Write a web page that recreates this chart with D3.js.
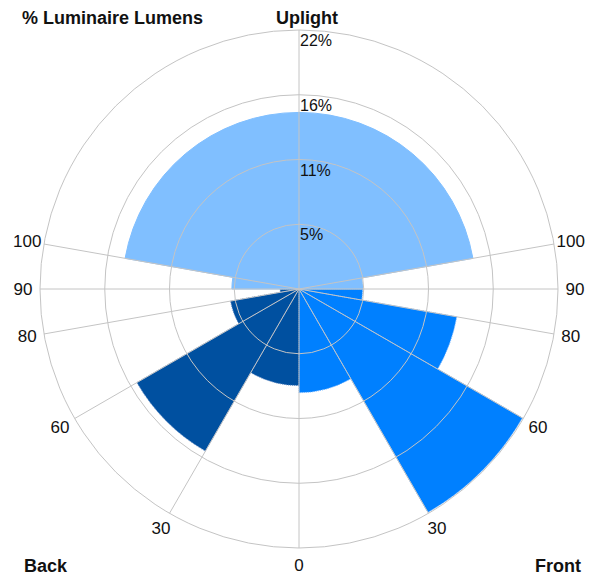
<!DOCTYPE html>
<html><head><meta charset="utf-8">
<script src="https://cdn.jsdelivr.net/npm/d3@7"></script>
<style>
html,body{margin:0;padding:0;background:#fff;}
svg{display:block;}
text{font-family:"Liberation Sans",Arial,sans-serif;fill:#111;}
.bold{font-weight:bold;}
</style></head>
<body>
<svg id="chart" width="590" height="578"></svg>
<script>
// Zones (vertical angle from nadir, degrees)
const zoneNames = ["0-30","30-60","60-80","80-90","90-100","100-180"];
const zoneStart = [0, 30, 60, 80, 90, 100];
const zoneEnd = [30, 60, 80, 90, 100, 180];
// % luminaire lumens per zone
const frontValues = [8.8, 21.9, 13.6, 5.4, 5.4, 15.0];
const backValues  = [8.2, 15.9, 5.9, 1.6, 5.7, 15.0];
// Grid
const ringValues = [5.5, 11, 16.5, 22];
const ringLabels = ["5%", "11%", "16%", "22%"];
const spokeAngles = [0, 30, 60, 80, 90, 100, 180];
const spokeLabelAngles = [0, 30, 60, 80, 90, 100];
const spokeLabels = ["0", "30", "60", "80", "90", "100"];

const cx = 299, cy = 289, R = 259;
const svg = d3.select("#chart");
const g = svg.append("g").attr("transform", `translate(${cx},${cy})`);
const r = d3.scaleLinear().domain([0, 22]).range([0, R]);
const deg = Math.PI / 180;

const colorFront = "#0080ff", colorBack = "#0050a0", colorUp = "#80bfff";
const strokeFront = "#59a8ff", strokeBack = "#4f7fc0";

const arc = d3.arc().innerRadius(0);

function wedges(values, side) {
  return values.map((v, i) => {
    const a0 = zoneStart[i] * deg, a1 = zoneEnd[i] * deg;
    const s = side === "front" ? [Math.PI - a1, Math.PI - a0] : [Math.PI + a0, Math.PI + a1];
    const up = zoneStart[i] >= 90;
    return {v, startAngle: s[0], endAngle: s[1], up, side};
  });
}
const data = wedges(frontValues, "front").concat(wedges(backValues, "back"));

g.selectAll("path.bar").data(data).join("path")
  .attr("class", "bar")
  .attr("d", d => arc.outerRadius(r(d.v))(d))
  .attr("fill", d => d.up ? colorUp : (d.side === "front" ? colorFront : colorBack))
  .attr("stroke", d => d.up ? colorUp : (d.side === "front" ? strokeFront : strokeBack))
  .attr("stroke-width", 1)
  .attr("stroke-dasharray", d => d.up ? null : "1,1");

// grid on top
const gridColor = "#c4c4c4";
g.selectAll("circle.ring").data(ringValues).join("circle")
  .attr("class", "ring")
  .attr("r", d => r(d))
  .attr("fill", "none").attr("stroke", gridColor).attr("stroke-width", 1);

const spokes = [];
spokeAngles.forEach(a => { spokes.push(a); if (a !== 0 && a !== 180) spokes.push(-a); });
g.selectAll("line.spoke").data(spokes).join("line")
  .attr("class", "spoke")
  .attr("x1", 0).attr("y1", 0)
  .attr("x2", d => R * Math.sin(d * deg))
  .attr("y2", d => R * Math.cos(d * deg))
  .attr("stroke", gridColor).attr("stroke-width", 1);

// ring labels
g.selectAll("text.rl").data(ringValues).join("text")
  .attr("class", "rl")
  .attr("x", 1)
  .attr("y", d => -r(d) + 16)
  .attr("font-size", 16)
  .text((d, i) => ringLabels[i]);

// spoke labels
const lab = [];
spokeLabelAngles.forEach((a, i) => {
  lab.push({a, t: spokeLabels[i]});
  if (a !== 0) lab.push({a: -a, t: spokeLabels[i]});
});
const LR = R + 17;
g.selectAll("text.sl").data(lab).join("text")
  .attr("class", "sl")
  .attr("x", d => LR * Math.sin(d.a * deg))
  .attr("y", d => LR * Math.cos(d.a * deg))
  .attr("text-anchor", "middle")
  .attr("dominant-baseline", "central")
  .attr("font-size", 17)
  .text(d => d.t);

// titles
svg.append("text").attr("class", "bold").attr("x", 22).attr("y", 24).attr("font-size", 18).text("% Luminaire Lumens");
svg.append("text").attr("class", "bold").attr("x", 276).attr("y", 24).attr("font-size", 18).text("Uplight");
svg.append("text").attr("class", "bold").attr("x", 24).attr("y", 572).attr("font-size", 18).text("Back");
svg.append("text").attr("class", "bold").attr("x", 581).attr("y", 572).attr("text-anchor", "end").attr("font-size", 18).text("Front");
</script>
</body></html>
